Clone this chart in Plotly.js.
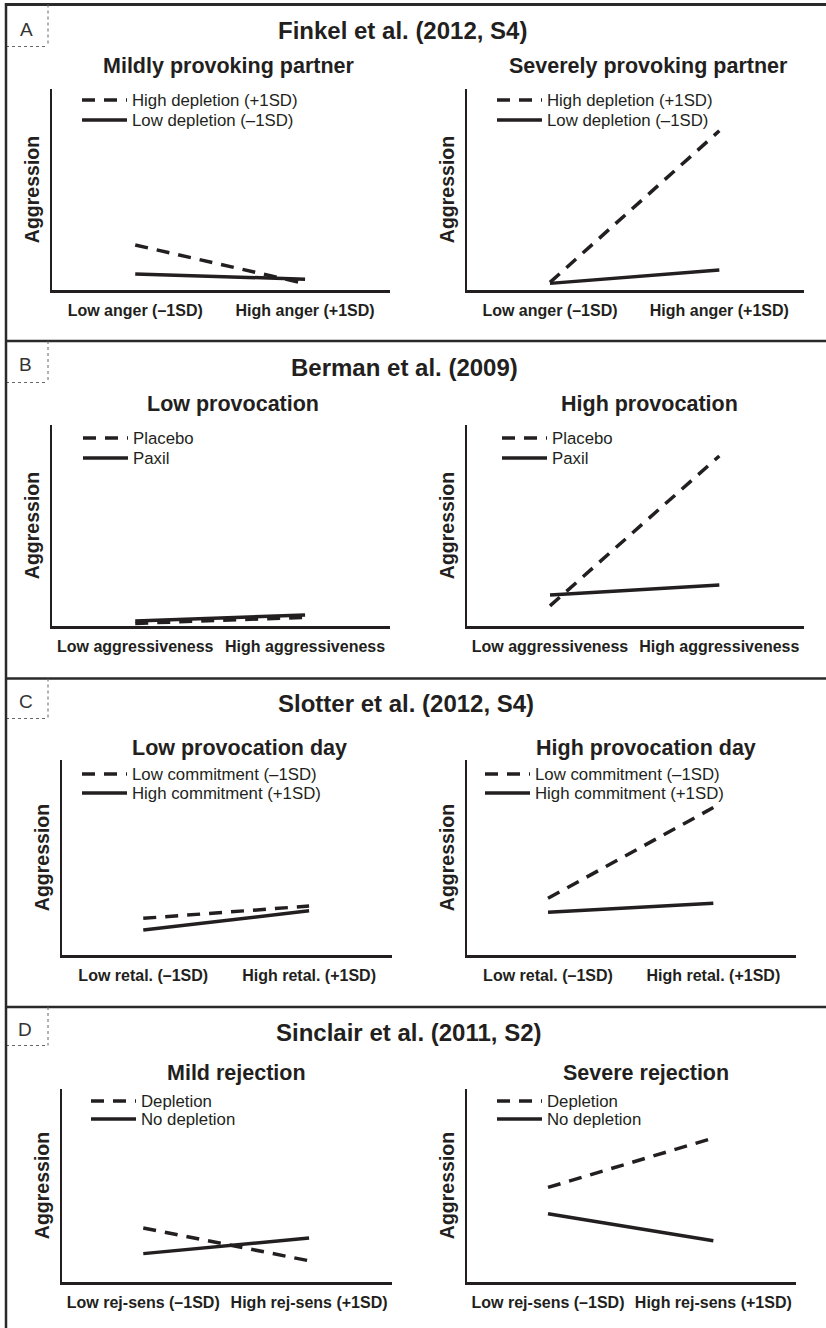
<!DOCTYPE html>
<html>
<head>
<meta charset="utf-8">
<script src="https://cdn.plot.ly/plotly-3.0.1.min.js"></script>
<style>
html,body{margin:0;padding:0;background:#fff;}
#chart{width:826px;height:1328px;}
</style>
</head>
<body>
<div id="chart"></div>
<script>
// ---------- DATA ----------
const panelLetters = ["A", "B", "C", "D"];
const panelTitles = ["Finkel et al. (2012, S4)", "Berman et al. (2009)", "Slotter et al. (2012, S4)", "Sinclair et al. (2011, S2)"];
const subTitles = [
  ["Mildly provoking partner", "Severely provoking partner"],
  ["Low provocation", "High provocation"],
  ["Low provocation day", "High provocation day"],
  ["Mild rejection", "Severe rejection"]
];
const tickLabels = [
  ["Low anger (\u20131SD)", "High anger (+1SD)"],
  ["Low aggressiveness", "High aggressiveness"],
  ["Low retal. (\u20131SD)", "High retal. (+1SD)"],
  ["Low rej-sens (\u20131SD)", "High rej-sens (+1SD)"]
];
const seriesNames = [
  ["High depletion (+1SD)", "Low depletion (\u20131SD)"],
  ["Placebo", "Paxil"],
  ["Low commitment (\u20131SD)", "High commitment (+1SD)"],
  ["Depletion", "No depletion"]
];
const yTitle = "Aggression";

// Aggression values (relative, 0-100 of axis height)
const finkelMildDashed = [22.4, 3.2];
const finkelMildSolid = [8.0, 5.4];
const finkelSevereDashed = [3.8, 79.2];
const finkelSevereSolid = [3.3, 10.0];
const bermanLowDashed = [1.3, 4.3];
const bermanLowSolid = [2.5, 5.5];
const bermanHighDashed = [10.0, 84.6];
const bermanHighSolid = [15.4, 20.4];
const slotterLowDashed = [18.8, 25.1];
const slotterLowSolid = [12.8, 22.7];
const slotterHighDashed = [29.1, 75.6];
const slotterHighSolid = [21.9, 26.5];
const sinclairMildDashed = [28.0, 11.0];
const sinclairMildSolid = [14.7, 22.8];
const sinclairSevereDashed = [49.0, 74.6];
const sinclairSevereSolid = [35.4, 21.4];

const dashedSeries = [finkelMildDashed, finkelSevereDashed, bermanLowDashed, bermanHighDashed,
                      slotterLowDashed, slotterHighDashed, sinclairMildDashed, sinclairSevereDashed];
const solidSeries = [finkelMildSolid, finkelSevereSolid, bermanLowSolid, bermanHighSolid,
                     slotterLowSolid, slotterHighSolid, sinclairMildSolid, sinclairSevereSolid];

// ---------- LAYOUT GEOMETRY (pixels) ----------
const W = 826, H = 1328;
const fx = p => p / W;
const fy = p => 1 - p / H;
const INK = "#231f20";
const FONT = "Liberation Sans, Arial, Helvetica, sans-serif";

const geom = [
  {x0: 52, x1: 390, y0: 89, y1: 290}, {x0: 467, x1: 804, y0: 89, y1: 290},
  {x0: 52, x1: 390, y0: 425, y1: 626}, {x0: 467, x1: 804, y0: 425, y1: 626},
  {x0: 62, x1: 392, y0: 760, y1: 955}, {x0: 467, x1: 796, y0: 760, y1: 955},
  {x0: 62, x1: 392, y0: 1089, y1: 1282}, {x0: 467, x1: 796, y0: 1089, y1: 1282}
];
// legend row centres: [x of sample start, y row1, y row2]
const legendPos = [
  {x: 82, y1: 100, y2: 120}, {x: 497, y1: 100, y2: 120},
  {x: 83, y1: 438, y2: 458}, {x: 502, y1: 438, y2: 458},
  {x: 82, y1: 774, y2: 793}, {x: 485, y1: 774, y2: 793},
  {x: 91, y1: 1101, y2: 1119}, {x: 497, y1: 1101, y2: 1119}
];
const subTitlePos = [
  {x: 228, y: 66}, {x: 648, y: 66},
  {x: 233, y: 404}, {x: 649, y: 404},
  {x: 240, y: 748}, {x: 646, y: 748},
  {x: 236, y: 1073}, {x: 646, y: 1073}
];
const titlePos = [{x: 402, y: 31}, {x: 404, y: 367}, {x: 406, y: 703}, {x: 408, y: 1032}];
const letterPos = [{x: 26, y: 29}, {x: 25, y: 365}, {x: 26, y: 701}, {x: 25, y: 1029}];
const sectionTop = [4.5, 341, 678.5, 1007];
const boxBottom = [46.5, 382.5, 718.5, 1045.5];

// ---------- BUILD ----------
const traces = [];
const layout = {
  width: W, height: H,
  margin: {l: 0, r: 0, t: 0, b: 0},
  showlegend: true,
  paper_bgcolor: "#fff", plot_bgcolor: "rgba(0,0,0,0)",
  font: {family: FONT, color: INK},
  annotations: [], shapes: []
};

function legendCfg(x, y) {
  return {
    x: fx(x - 5), y: fy(y - 17.5), xanchor: "left", yanchor: "top",
    bgcolor: "rgba(0,0,0,0)", borderwidth: 0, itemwidth: 45, tracegroupgap: 0,
    font: {family: FONT, size: 16.8, color: INK}
  };
}

for (let i = 0; i < 8; i++) {
  const p = Math.floor(i / 2);
  const s = i % 2;
  const idx = i === 0 ? "" : String(i + 1);
  const legA = i === 0 ? "legend" : "legend" + (2 * i + 1);
  const legB = "legend" + (2 * i + 2);
  const g = geom[i];
  traces.push({
    x: tickLabels[p], y: dashedSeries[i], type: "scatter", mode: "lines",
    name: seriesNames[p][0], xaxis: "x" + idx, yaxis: "y" + idx, legend: legA, showlegend: true,
    line: {color: INK, width: 3.5, dash: "13px,9px"}, hoverinfo: "skip"
  });
  traces.push({
    x: tickLabels[p], y: solidSeries[i], type: "scatter", mode: "lines",
    name: seriesNames[p][1], xaxis: "x" + idx, yaxis: "y" + idx, legend: legB, showlegend: true,
    line: {color: INK, width: 3.5}, hoverinfo: "skip"
  });
  layout["xaxis" + idx] = {
    domain: [fx(g.x0), fx(g.x1)], anchor: "y" + idx, type: "category",
    range: [-0.49, 1.5], showline: true, linecolor: INK, linewidth: 2.5,
    ticks: "", showgrid: false, zeroline: false, fixedrange: true,
    ticklabelstandoff: 4,
    tickfont: {family: FONT, size: 16, color: INK, weight: "bold"}
  };
  layout["yaxis" + idx] = {
    domain: [fy(g.y1), fy(g.y0)], anchor: "x" + idx,
    range: [0, 100], showline: true, linecolor: INK, linewidth: 2.5,
    ticks: "", showticklabels: false, showgrid: false, zeroline: false, fixedrange: true,
    title: {text: yTitle, standoff: 5, font: {family: FONT, size: 19.5, color: INK, weight: "bold"}}
  };
  layout[legA] = legendCfg(legendPos[i].x, legendPos[i].y1);
  layout[legB] = legendCfg(legendPos[i].x, legendPos[i].y2);
  layout.annotations.push({
    text: subTitles[p][s], xref: "paper", yref: "paper",
    x: fx(subTitlePos[i].x), y: fy(subTitlePos[i].y), xanchor: "center", yanchor: "middle",
    showarrow: false, font: {family: FONT, size: 21.5, color: INK, weight: "bold"}
  });
}

for (let p = 0; p < 4; p++) {
  layout.annotations.push({
    text: panelTitles[p], xref: "paper", yref: "paper",
    x: fx(titlePos[p].x), y: fy(titlePos[p].y), xanchor: "center", yanchor: "middle",
    showarrow: false, font: {family: FONT, size: 24, color: INK, weight: "bold"}
  });
  layout.annotations.push({
    text: panelLetters[p], xref: "paper", yref: "paper",
    x: fx(letterPos[p].x), y: fy(letterPos[p].y), xanchor: "center", yanchor: "middle",
    showarrow: false, font: {family: FONT, size: 19, color: "#333"}
  });
  // separator / top frame line
  layout.shapes.push({
    type: "line", xref: "paper", yref: "paper",
    x0: fx(5), x1: 1, y0: fy(sectionTop[p]), y1: fy(sectionTop[p]),
    line: {color: "#2a2a2a", width: p === 0 ? 3 : 2.5}
  });
  // dotted label box
  layout.shapes.push({
    type: "line", xref: "paper", yref: "paper",
    x0: fx(48), x1: fx(48), y0: fy(sectionTop[p]), y1: fy(boxBottom[p]),
    line: {color: "#666", width: 1, dash: "dot"}
  });
  layout.shapes.push({
    type: "line", xref: "paper", yref: "paper",
    x0: fx(6), x1: fx(48), y0: fy(boxBottom[p]), y1: fy(boxBottom[p]),
    line: {color: "#666", width: 1, dash: "dot"}
  });
}
// left frame line
layout.shapes.push({
  type: "line", xref: "paper", yref: "paper",
  x0: fx(6), x1: fx(6), y0: fy(3), y1: 0,
  line: {color: "#2a2a2a", width: 2.5}
});

Plotly.newPlot("chart", traces, layout, {staticPlot: true, displayModeBar: false});
</script>
</body>
</html>
